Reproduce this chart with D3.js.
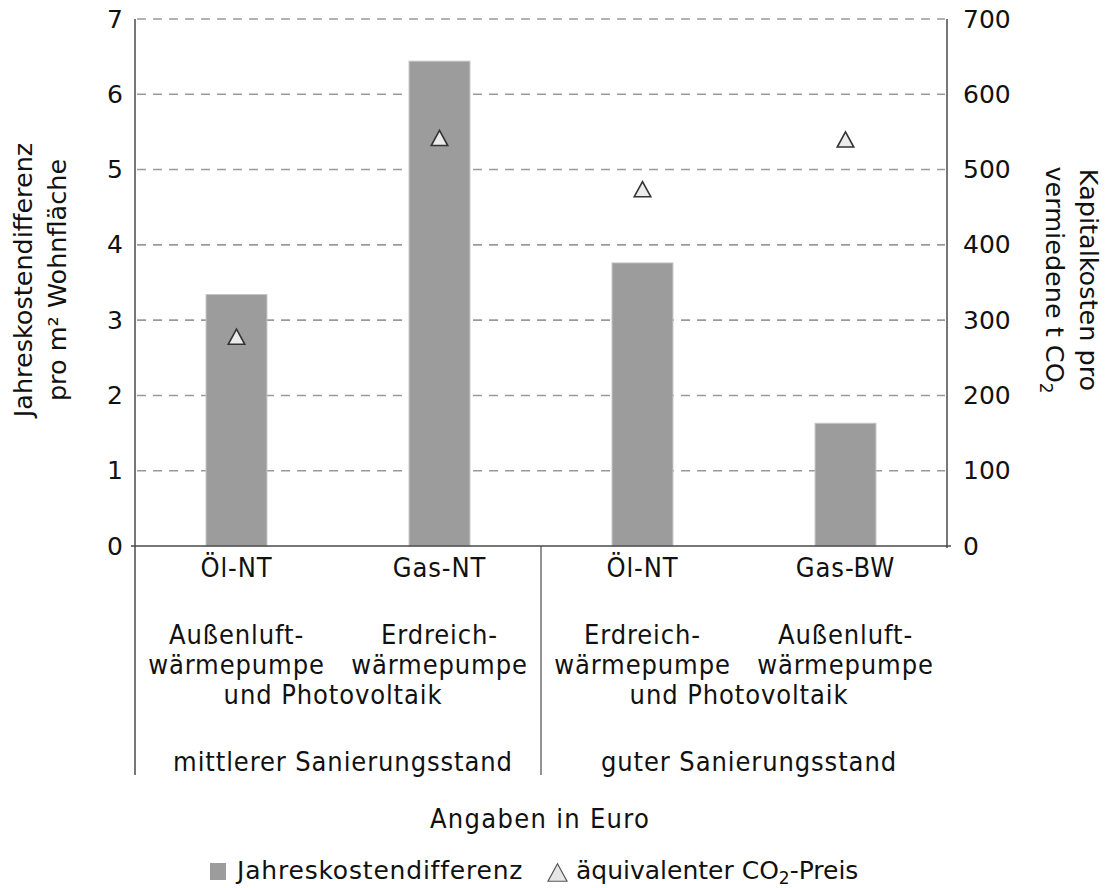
<!DOCTYPE html>
<html><head><meta charset="utf-8">
<script src="https://cdn.jsdelivr.net/npm/d3@7"></script>
<style>body{margin:0;background:#fff}svg{display:block}</style>
</head><body>
<script>
// ---- data ----
const categories = ["Öl-NT", "Gas-NT", "Öl-NT", "Gas-BW"];
const techLines = [["Außenluft-", "wärmepumpe"], ["Erdreich-", "wärmepumpe"], ["Erdreich-", "wärmepumpe"], ["Außenluft-", "wärmepumpe"]];
const groupNote = "und Photovoltaik";
const groups = ["mittlerer Sanierungsstand", "guter Sanierungsstand"];
const jahreskosten = [3.34, 6.44, 3.76, 1.63];       // left axis
const co2Preis = [278, 542, 474, 540];               // right axis
const leftTicks = [0, 1, 2, 3, 4, 5, 6, 7];
const rightTicks = [0, 100, 200, 300, 400, 500, 600, 700];

const W = 1110, H = 888;
const L = 135, R = 947, T = 19, B = 546, catBottom = 775;
const svg = d3.select("body").append("svg").attr("width", W).attr("height", H);
const FONT = "DejaVu Sans";
const FONTC = "DejaVu Sans Condensed";

const x = d3.scaleBand().domain(d3.range(categories.length)).range([L, R]).paddingInner(0.7).paddingOuter(0.35);
const yL = d3.scaleLinear().domain([0, 7]).range([B, T]);
const yR = d3.scaleLinear().domain([0, 700]).range([B, T]);

// gridlines
svg.append("g").selectAll("line").data(leftTicks.filter(d => d > 0)).join("line")
  .attr("x1", L + 2).attr("x2", R - 2).attr("y1", d => yL(d)).attr("y2", d => yL(d))
  .attr("stroke", "#9a9a9a").attr("stroke-width", 1.6).attr("stroke-dasharray", "9,7");

// bars
svg.append("g").selectAll("rect").data(jahreskosten).join("rect")
  .attr("x", (d, i) => x(i)).attr("width", x.bandwidth())
  .attr("y", d => yL(d)).attr("height", d => yL(0) - yL(d))
  .attr("fill", "#9c9c9c").attr("stroke", "#c4c4c4").attr("stroke-width", 1);

// axes lines
const axisColor = "#4a4a4a";
svg.append("line").attr("x1", L).attr("x2", L).attr("y1", T).attr("y2", catBottom).attr("stroke", axisColor).attr("stroke-width", 1.5);
svg.append("line").attr("x1", R).attr("x2", R).attr("y1", T).attr("y2", B + 2).attr("stroke", axisColor).attr("stroke-width", 1.5);
svg.append("line").attr("x1", L - 4).attr("x2", R + 4).attr("y1", B).attr("y2", B).attr("stroke", axisColor).attr("stroke-width", 1.5);
svg.append("line").attr("x1", (x(1) + x.bandwidth() + x(2)) / 2).attr("x2", (x(1) + x.bandwidth() + x(2)) / 2)
  .attr("y1", B).attr("y2", catBottom).attr("stroke", axisColor).attr("stroke-width", 1.2);

// left axis
const gL = svg.append("g").attr("transform", `translate(${L},0)`)
  .call(d3.axisLeft(yL).tickValues(leftTicks).tickSize(0).tickPadding(12).tickFormat(d3.format("d")));
gL.select(".domain").remove();
gL.selectAll("text").attr("font-family", FONT).attr("font-size", 25).attr("fill", "#111");

// right axis
const gR = svg.append("g").attr("transform", `translate(${R},0)`)
  .call(d3.axisRight(yR).tickValues(rightTicks).tickSize(0).tickPadding(16).tickFormat(d3.format("d")));
gR.select(".domain").remove();
gR.selectAll("text").attr("font-family", FONT).attr("font-size", 25).attr("fill", "#111");

// triangle markers (bbox-centred)
const tri = { draw(ctx, size) { const s = Math.sqrt(size); const h = s * 0.92;
  ctx.moveTo(0, -h / 2); ctx.lineTo(s / 2, h / 2); ctx.lineTo(-s / 2, h / 2); ctx.closePath(); } };
svg.append("g").selectAll("path").data(co2Preis).join("path")
  .attr("d", d3.symbol().type(tri).size(16.5 * 16.5))
  .attr("transform", (d, i) => `translate(${x(i) + x.bandwidth() / 2},${yR(d)})`)
  .attr("fill", "#ebebeb").attr("stroke", "#333").attr("stroke-width", 1.6);

// category labels
const cx = i => x(i) + x.bandwidth() / 2;
const txt = (sel) => sel.attr("font-family", FONTC).attr("font-size", 27).attr("fill", "#111")
  .attr("text-anchor", "middle").attr("letter-spacing", 0.9);
svg.append("g").selectAll("text").data(categories).join("text").call(txt)
  .attr("x", (d, i) => cx(i)).attr("y", 577).text(d => d);
techLines.forEach((lines, i) => {
  lines.forEach((s, j) => svg.append("text").call(txt).attr("x", cx(i)).attr("y", 644 + j * 30).text(s));
});
[0, 2].forEach(i => svg.append("text").call(txt).attr("x", (cx(i) + cx(i + 1)) / 2 - 5).attr("y", 704).text(groupNote));
groups.forEach((g, k) => svg.append("text").call(txt).attr("x", (cx(2 * k) + cx(2 * k + 1)) / 2 + 5).attr("y", 771).text(g));

svg.append("text").call(txt).attr("letter-spacing", 1.3).attr("x", 540).attr("y", 828).text("Angaben in Euro");

// axis titles
const lt = svg.append("text").attr("font-family", FONT).attr("font-size", 25.5).attr("fill", "#111")
  .attr("text-anchor", "middle").attr("transform", "translate(32,280) rotate(-90)");
lt.append("tspan").attr("x", 0).attr("y", 0).text("Jahreskostendifferenz");
lt.append("tspan").attr("x", 0).attr("y", 34).text("pro m² Wohnfläche");

const rt = svg.append("text").attr("font-family", FONT).attr("font-size", 25.5).attr("fill", "#111")
  .attr("text-anchor", "middle").attr("transform", "translate(1080,280) rotate(90)");
rt.append("tspan").attr("x", 0).attr("y", 0).text("Kapitalkosten pro");
const rt2 = rt.append("tspan").attr("x", 0).attr("y", 34);
rt2.append("tspan").text("vermiedene t CO");
rt2.append("tspan").attr("font-size", 17).attr("dy", 6).text("2");

// legend
svg.append("rect").attr("x", 210).attr("y", 863).attr("width", 16).attr("height", 17).attr("fill", "#9c9c9c");
svg.append("text").attr("font-family", FONT).attr("font-size", 25).attr("letter-spacing", 0.8).attr("fill", "#111")
  .attr("x", 237).attr("y", 879).text("Jahreskostendifferenz");
svg.append("path").attr("d", d3.symbol().type(tri).size(19 * 19)).attr("transform", "translate(557.5,872.5)")
  .attr("fill", "#e6e6e6").attr("stroke", "#555").attr("stroke-width", 1.2);
const lg = svg.append("text").attr("font-family", FONT).attr("font-size", 25).attr("fill", "#111").attr("x", 576).attr("y", 879);
lg.append("tspan").text("äquivalenter CO");
lg.append("tspan").attr("font-size", 17).attr("dy", 5).text("2");
lg.append("tspan").attr("dy", -5).text("-Preis");
</script>
</body></html>
